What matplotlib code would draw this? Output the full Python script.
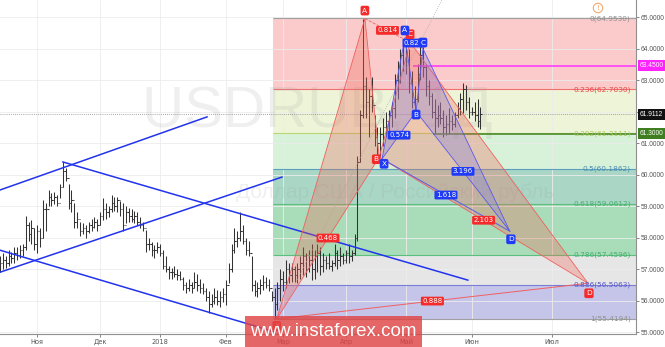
import matplotlib
matplotlib.use("Agg")
import matplotlib.pyplot as plt
from matplotlib.patches import Polygon, Rectangle

# daily bars, x = weekday index
highs = [57.4, 57.5, 57.4, 57.6, 57.55, 57.7, 57.7, 57.75, 57.8, 58.7,
         58.5, 58.55, 58.3, 58.4, 58.3, 59.2, 59.1, 59.5, 59.4, 59.45,
         59.35, 59.7, 60.4, 60.2, 59.7, 59.5, 59.1, 58.8, 58.5, 58.45,
         58.4, 58.5, 58.6, 58.65, 58.6, 58.8, 59.25, 59.1, 59.0, 59.35,
         59.3, 59.3, 59.15, 59.1, 59.0, 58.95, 58.9, 58.85, 58.8, 58.65,
         58.5, 58.25, 58.0, 57.85, 57.75, 57.85, 57.8, 57.6, 57.4, 57.1,
         57.05, 57.1, 57.0, 56.95, 56.75, 56.6, 56.7, 56.6, 56.9, 56.85,
         56.7, 56.55, 56.4, 56.3, 56.2, 56.4, 56.35, 56.3, 56.4, 56.65,
         57.2, 57.8, 58.3, 58.2, 58.8, 58.4, 58.0, 57.9, 57.4, 56.65,
         56.6, 56.7, 56.8, 56.75, 56.7, 56.3, 56.4, 56.6, 57.0, 56.95,
         57.3, 57.2, 57.2, 57.1, 57.2, 57.4, 57.7, 57.5, 57.6, 57.8,
         57.6, 57.8, 57.7, 57.5, 57.4, 57.5, 57.3, 57.8, 57.6, 57.7,
         57.5, 57.6, 57.8, 57.6, 58.1, 60.6, 62.05, 64.95, 63.1, 62.7,
         63.1, 61.9, 61.5, 61.5, 61.8, 62.0, 62.05, 62.3, 63.2, 63.6,
         64.0, 64.3, 64.25, 64.0, 63.3, 62.8, 63.5, 64.1, 64.05, 63.5,
         63.0, 62.6, 62.4, 62.2, 62.3, 62.05, 61.9, 62.1, 61.9, 62.0,
         62.3, 62.6, 62.9, 62.85, 62.45, 62.15, 62.3, 62.4, 62.15]
lows = [56.9, 57.0, 57.05, 57.1, 57.2, 57.2, 57.3, 57.35, 57.4, 57.6,
        57.9, 57.8, 57.6, 57.5, 57.7, 58.0, 58.2, 59.0, 59.0, 59.05,
        59.0, 59.25, 59.6, 59.8, 58.9, 58.8, 58.3, 58.3, 58.05, 58.1,
        58.0, 58.15, 58.2, 58.3, 58.2, 58.4, 58.55, 58.6, 58.65, 58.8,
        58.85, 58.8, 58.7, 58.2, 58.45, 58.5, 58.5, 58.45, 58.4, 58.3,
        58.2, 57.55, 57.6, 57.4, 57.35, 57.5, 57.4, 57.0, 56.9, 56.7,
        56.7, 56.75, 56.65, 56.65, 56.35, 56.25, 56.3, 56.25, 56.4, 56.3,
        56.25, 56.2, 56.0, 55.6, 55.8, 55.9, 55.85, 55.8, 55.95, 55.85,
        56.55, 56.9, 57.5, 57.7, 57.9, 57.8, 57.45, 57.4, 56.3, 56.15,
        56.1, 56.2, 56.35, 56.4, 56.3, 56.0, 55.45, 55.7, 56.0, 56.3,
        56.4, 56.55, 56.6, 56.6, 56.55, 56.7, 56.8, 56.75, 56.9, 56.65,
        56.7, 56.9, 56.8, 56.9, 57.0, 57.0, 56.95, 57.1, 57.0, 57.1,
        57.15, 57.2, 57.2, 57.25, 57.45, 57.9, 60.4, 61.8, 61.8, 61.2,
        62.0, 60.9, 60.55, 60.6, 60.9, 61.2, 61.3, 61.5, 61.8, 62.4,
        62.9, 63.3, 63.2, 62.6, 62.1, 62.0, 62.3, 63.0, 63.1, 62.5,
        62.2, 61.8, 61.3, 61.5, 61.6, 61.2, 61.25, 61.3, 61.4, 61.5,
        61.8, 61.9, 61.95, 62.05, 61.8, 61.9, 61.7, 61.5, 61.45]
closes = [57.2, 57.3, 57.2, 57.4, 57.35, 57.5, 57.45, 57.6, 57.7, 58.4,
          58.1, 58.3, 57.8, 58.2, 58.0, 58.9, 58.9, 59.3, 59.2, 59.3,
          59.1, 59.6, 60.1, 59.9, 59.1, 59.2, 58.5, 58.6, 58.2, 58.3,
          58.2, 58.4, 58.35, 58.5, 58.4, 58.7, 58.9, 58.8, 58.9, 59.1,
          59.0, 59.2, 58.9, 58.4, 58.8, 58.7, 58.6, 58.7, 58.5, 58.4,
          58.3, 57.8, 57.8, 57.6, 57.6, 57.7, 57.5, 57.1, 57.0, 56.9,
          56.9, 56.85, 56.8, 56.7, 56.5, 56.4, 56.5, 56.4, 56.6, 56.5,
          56.4, 56.3, 56.1, 55.9, 56.0, 56.1, 56.0, 56.1, 56.2, 56.5,
          57.0, 57.6, 57.9, 58.0, 58.2, 57.9, 57.6, 57.5, 56.5, 56.3,
          56.4, 56.5, 56.6, 56.5, 56.4, 56.1, 55.9, 56.4, 56.7, 56.6,
          57.0, 56.8, 57.0, 56.8, 57.0, 57.2, 57.4, 57.0, 57.3, 57.0,
          57.4, 57.5, 57.1, 57.3, 57.2, 57.1, 57.2, 57.5, 57.3, 57.4,
          57.3, 57.5, 57.4, 57.5, 58.0, 60.4, 61.9, 62.8, 62.3, 62.5,
          62.2, 61.2, 61.0, 61.3, 61.5, 61.7, 61.9, 62.1, 63.0, 63.4,
          63.8, 64.1, 63.6, 62.9, 62.3, 62.4, 63.2, 63.8, 63.4, 62.8,
          62.5, 62.0, 61.8, 61.9, 61.8, 61.5, 61.6, 61.7, 61.6, 61.9,
          62.1, 62.4, 62.7, 62.3, 62.0, 62.0, 61.9, 61.7, 61.9112]

months = ["Ноя", "Дек", "2018", "Фев", "Мар", "Апр", "Май", "Июн", "Июл"]
month_pos = [13, 35, 56, 79, 99, 121, 142, 165, 193]

fib_ratios = [0, 0.236, 0.382, 0.5, 0.618, 0.786, 0.886, 1]
fib_prices = [64.9530, 62.7030, 61.3111, 60.1862, 59.0612, 57.4596, 56.5063, 55.4194]
fib_start = 95.5

# harmonic patterns, points X A B C D
red_x = [96.8, 127.6, 132.6, 143.4, 205.6]
red_y = [55.42, 64.95, 60.55, 64.2, 56.55]
red_ratios = ["0.468", "0.814", "2.103", "0.888"]
blue_x = [133.6, 141.6, 145.5, 147.9, 178.3]
blue_y = [60.5, 64.35, 62.0, 64.0, 58.2]
blue_ratios = ["0.574", "0.823", "3.196", "1.618"]

# trend channel lines
chan_x0 = [0, 0, 22, 0]
chan_y0 = [59.51, 56.90, 60.40, 57.60]
chan_x1 = [72.4, 98.6, 163.6, 96]
chan_y1 = [61.83, 59.92, 56.65, 55.01]

last_price = 61.9112
resist_level, resist_from = 63.45, 144.4
support_level, support_from = 61.30, 151.4

XMAX = 222.4
YMIN, YMAX = 54.94, 65.54

fig = plt.figure(figsize=(6.65, 3.47), dpi=100)
ax = fig.add_axes([0, 13 / 347, 636 / 665, 334 / 347])
ax.set_xlim(0, XMAX)
ax.set_ylim(YMIN, YMAX)

# fibonacci retracement
fib_fill = ['#fbcaca', '#eef4d8', '#d8f1d9', '#a9d6c5', '#a9dcb8', '#e6e6e6', '#c5c5ea']
fib_line = ['#a0a0a0', '#f07070', '#b8d870', '#5a9fc0', '#5cbf80', '#5cbf80', '#7b7bd8', '#a0a0a0']
fib_text = ['#909090', '#e84848', '#a6c95a', '#4a8fb0', '#46b070', '#46b070', '#5a5ac8', '#909090']
for k in range(len(fib_prices) - 1):
    ax.fill_between([fib_start, XMAX], fib_prices[k + 1], fib_prices[k],
                    color=fib_fill[k], lw=0, zorder=0.5)
for r, p, lc, tc in zip(fib_ratios, fib_prices, fib_line, fib_text):
    ax.hlines(p, fib_start, XMAX, colors=lc, lw=0.8, zorder=0.6)
    ax.text(220.6, p, f"{r:g}({p:.4f})", ha='right', va='center',
            color=tc, fontsize=5.3, zorder=6)

# watermark
ax.text(317 / 2.86, 62.0, "USDRUB, 1Д", ha='center', va='center', fontsize=42,
        color='#9a9a9a', alpha=0.15, family='Liberation Sans', zorder=0.8)
ax.text(395 / 2.86, 59.43, "Доллар США / Российский рубль", ha='center', va='center',
        fontsize=15, color='#9a9a9a', alpha=0.15, family='Liberation Sans', zorder=0.8)

# channels
for x0, y0, x1, y1 in zip(chan_x0, chan_y0, chan_x1, chan_y1):
    ax.plot([x0, x1], [y0, y1], color='#2233ee', lw=1.1, zorder=3)

# current price, levels
ax.axhline(last_price, color='#888888', lw=0.6, ls=(0, (1, 1.5)), zorder=1)
ax.hlines(resist_level, resist_from, XMAX, colors='#ff33ff', lw=1.1, zorder=3)
ax.hlines(support_level, support_from, XMAX, colors='#4b8a2b', lw=1.2, zorder=3)

# bars
idx = list(range(len(closes)))
opens = [closes[0]] + closes[:-1]
ax.vlines(idx, lows, highs, color='#333333', lw=0.75, zorder=2)
ax.hlines(opens, [i - 0.45 for i in idx], idx, color='#333333', lw=0.75, zorder=2)
ax.hlines(closes, idx, [i + 0.45 for i in idx], color='#333333', lw=0.75, zorder=2)

# faint dotted guide from red X
ax.plot([red_x[0], 154.5], [red_y[0], YMAX], color='#b0b0b0', lw=0.6, ls=':', zorder=2.5)


def draw_pattern(px, py, ratios, fc, ec, box, offs):
    for tri in ([0, 1, 2], [2, 3, 4]):
        ax.add_patch(Polygon([(px[i], py[i]) for i in tri], closed=True,
                             fc=fc, ec='none', alpha=0.32, zorder=4))
        ax.add_patch(Polygon([(px[i], py[i]) for i in tri], closed=True,
                             fill=False, ec=ec, lw=0.6, zorder=4))
    ax.plot([px[0], px[4]], [py[0], py[4]], color=ec, lw=0.7, zorder=4)
    ax.plot([px[1], px[3]], [py[1], py[3]], color=ec, lw=0.6, ls='--', zorder=4)
    pairs = [(0, 2), (1, 3), (2, 4), (0, 4)]
    for (a, b), t in zip(pairs, ratios):
        ax.text((px[a] + px[b]) / 2, (py[a] + py[b]) / 2, t, ha='center', va='center',
                color='white', fontsize=5, zorder=7,
                bbox=dict(boxstyle='round,pad=0.2', fc=box, ec='none'))
    for name, x, y, o in zip("XABCD", px, py, offs):
        ax.annotate(name, (x, y), xytext=o, textcoords='offset pixels',
                    ha='center', va='center', color='white', fontsize=5.3, zorder=8,
                    bbox=dict(boxstyle='round,pad=0.25', fc=box, ec='none'))


draw_pattern(red_x, red_y, red_ratios, '#f06a5a', '#f06060', '#f52a2a',
             [(0, -7), (0, 8), (-3, -2), (0, 8), (1, -10)])
draw_pattern(blue_x, blue_y, blue_ratios, '#7f7fe0', '#5a5ae8', '#1f3bf5',
             [(2, -5), (0, 7), (0, -3), (0, 6), (1, -8)])

# axes styling
ax.set_yticks(range(55, 66))
ax.set_yticklabels([f"{v:.4f}" for v in range(55, 66)], family='Liberation Sans')
ax.yaxis.tick_right()
ax.set_xticks(month_pos)
ax.set_xticklabels(months)
ax.tick_params(axis='both', labelsize=4.8, colors='#555555', length=2, width=0.5, pad=1.5)
ax.grid(True, color='#ececec', lw=0.6, zorder=0)
ax.set_axisbelow(True)
for s in ['top', 'left']:
    ax.spines[s].set_visible(False)
for s in ['right', 'bottom']:
    ax.spines[s].set_color('#909090')
    ax.spines[s].set_linewidth(0.8)

# price tags on the right axis
ytr = ax.get_yaxis_transform()
for val, col in [(resist_level, '#ff22ff'), (last_price, '#111111'), (support_level, '#3f7f22')]:
    ax.text(1.006, val, f"{val:.4f}", transform=ytr, ha='left', va='center',
            color='white', fontsize=4.8, family='Liberation Sans', clip_on=False, zorder=9,
            bbox=dict(boxstyle='square,pad=0.3', fc=col, ec='none'))

# alert icon
fig.text(598 / 665, 1 - 8 / 347, "!", ha='center', va='center', color='#f0a060',
         fontsize=5, bbox=dict(boxstyle='circle,pad=0.25', fc='white', ec='#f0a060', lw=0.7))

# site logo
fig.add_artist(Rectangle((245 / 665, 0), 177 / 665, 31 / 347, transform=fig.transFigure,
                         fc='#e04444', ec='none', alpha=0.82, zorder=10))
fig.text(333 / 665, 15 / 347, "www.instaforex.com", ha='center', va='center',
         color='white', fontsize=13.5, family='Liberation Sans', zorder=11)

fig.savefig("out.png", dpi=100)
